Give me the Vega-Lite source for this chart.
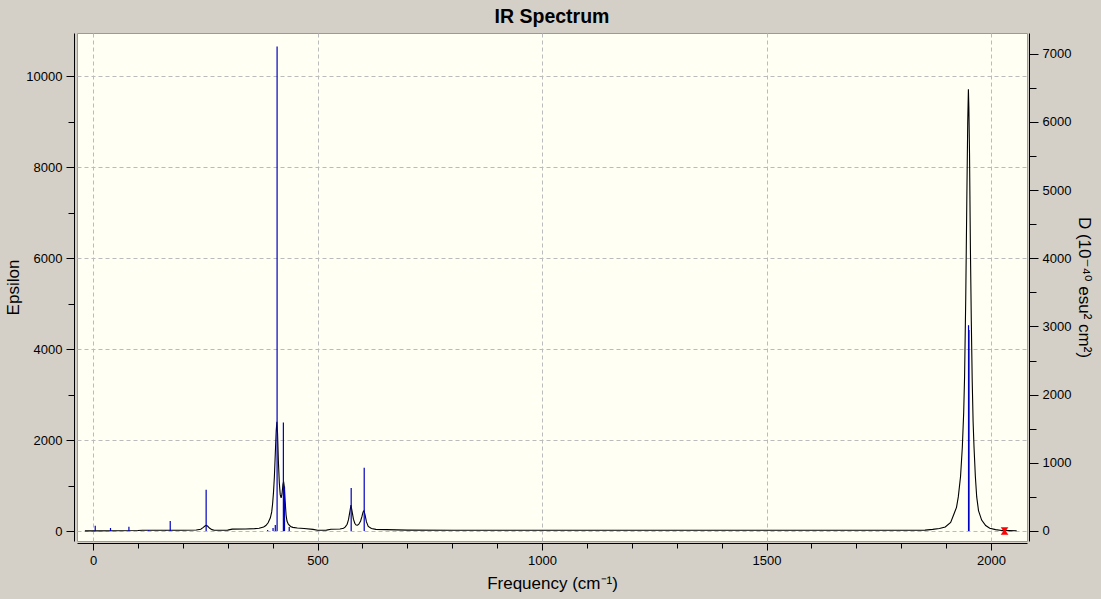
{
  "$schema": "https://vega.github.io/schema/vega-lite/v6.json",
  "width": 950,
  "height": 508,
  "autosize": {"type": "none"},
  "padding": {"left": 77, "top": 33, "right": 74, "bottom": 58},
  "background": "#d4d0c8",
  "config": {
    "font": "Liberation Sans",
    "view": {"fill": "#fffff4", "stroke": "#9a9a9a", "strokeWidth": 1},
    "axis": {"domainColor": "#000000", "tickColor": "#000000", "labelColor": "#000000", "titleColor": "#000000", "labelFontSize": 13, "titleFontSize": 17, "titleFontWeight": "normal", "labelFont": "Liberation Sans", "titleFont": "Liberation Sans"}
  },
  "title": {"text": "IR Spectrum", "fontSize": 19.5, "fontWeight": "bold", "color": "#000000", "anchor": "middle", "offset": 6, "font": "Liberation Sans"},
  "datasets": {
    "curve": [
      {"freq": -18, "eps": 2}, {"freq": 0, "eps": 3}, {"freq": 50, "eps": 5}, {"freq": 100, "eps": 10},
      {"freq": 110, "eps": 18}, {"freq": 150, "eps": 18}, {"freq": 200, "eps": 18}, {"freq": 230, "eps": 22},
      {"freq": 240, "eps": 40}, {"freq": 245, "eps": 75}, {"freq": 250, "eps": 115}, {"freq": 252, "eps": 122},
      {"freq": 255, "eps": 110}, {"freq": 260, "eps": 60}, {"freq": 265, "eps": 30}, {"freq": 270, "eps": 18},
      {"freq": 300, "eps": 20}, {"freq": 310, "eps": 42}, {"freq": 340, "eps": 45}, {"freq": 360, "eps": 52},
      {"freq": 370, "eps": 62}, {"freq": 380, "eps": 90}, {"freq": 385, "eps": 120}, {"freq": 390, "eps": 180},
      {"freq": 395, "eps": 290}, {"freq": 398, "eps": 420}, {"freq": 400, "eps": 600}, {"freq": 402, "eps": 850},
      {"freq": 404, "eps": 1200}, {"freq": 406, "eps": 1700}, {"freq": 408, "eps": 2200}, {"freq": 409.5, "eps": 2405},
      {"freq": 411, "eps": 2150}, {"freq": 413, "eps": 1500}, {"freq": 415, "eps": 1050}, {"freq": 417, "eps": 800},
      {"freq": 419, "eps": 730}, {"freq": 421, "eps": 820}, {"freq": 423, "eps": 1020}, {"freq": 424.5, "eps": 1085},
      {"freq": 426, "eps": 980}, {"freq": 428, "eps": 650}, {"freq": 430, "eps": 350}, {"freq": 432, "eps": 220},
      {"freq": 435, "eps": 150}, {"freq": 440, "eps": 100}, {"freq": 445, "eps": 80}, {"freq": 455, "eps": 65},
      {"freq": 470, "eps": 55}, {"freq": 490, "eps": 35}, {"freq": 500, "eps": 15}, {"freq": 520, "eps": 20},
      {"freq": 530, "eps": 40}, {"freq": 550, "eps": 45}, {"freq": 558, "eps": 60}, {"freq": 562, "eps": 90},
      {"freq": 566, "eps": 150}, {"freq": 569, "eps": 250}, {"freq": 572, "eps": 420}, {"freq": 574.5, "eps": 572},
      {"freq": 577, "eps": 430}, {"freq": 580, "eps": 260}, {"freq": 583, "eps": 170}, {"freq": 586, "eps": 130},
      {"freq": 589, "eps": 128}, {"freq": 592, "eps": 150}, {"freq": 596, "eps": 220}, {"freq": 599, "eps": 320},
      {"freq": 601.5, "eps": 420}, {"freq": 603.5, "eps": 447}, {"freq": 606, "eps": 350}, {"freq": 609, "eps": 200},
      {"freq": 613, "eps": 100}, {"freq": 620, "eps": 55}, {"freq": 630, "eps": 35}, {"freq": 700, "eps": 20},
      {"freq": 800, "eps": 16}, {"freq": 1000, "eps": 15}, {"freq": 1200, "eps": 15}, {"freq": 1400, "eps": 15},
      {"freq": 1600, "eps": 15}, {"freq": 1700, "eps": 16}, {"freq": 1800, "eps": 18}, {"freq": 1853, "eps": 20},
      {"freq": 1870, "eps": 35}, {"freq": 1885, "eps": 55}, {"freq": 1898, "eps": 90}, {"freq": 1910, "eps": 190},
      {"freq": 1918, "eps": 390}, {"freq": 1923, "eps": 520}, {"freq": 1927, "eps": 750}, {"freq": 1932, "eps": 1200},
      {"freq": 1936, "eps": 1850}, {"freq": 1939, "eps": 2600}, {"freq": 1941, "eps": 3400}, {"freq": 1943.6, "eps": 5130},
      {"freq": 1946, "eps": 7300}, {"freq": 1948, "eps": 9000}, {"freq": 1949.5, "eps": 9718}, {"freq": 1950.5, "eps": 9335},
      {"freq": 1952, "eps": 8300}, {"freq": 1954, "eps": 6200}, {"freq": 1956, "eps": 4600}, {"freq": 1958, "eps": 3300},
      {"freq": 1960, "eps": 2400}, {"freq": 1962, "eps": 1850}, {"freq": 1965, "eps": 1200}, {"freq": 1968, "eps": 750},
      {"freq": 1972, "eps": 450}, {"freq": 1979, "eps": 240}, {"freq": 1988, "eps": 120}, {"freq": 1997, "eps": 60},
      {"freq": 2010, "eps": 30}, {"freq": 2024, "eps": 12}, {"freq": 2040, "eps": 8}, {"freq": 2057, "eps": 5}
    ],
    "sticks": [
      {"freq": 5, "D": 78}, {"freq": 39, "D": 44}, {"freq": 80, "D": 63}, {"freq": 124, "D": 10},
      {"freq": 162, "D": 8}, {"freq": 172, "D": 147}, {"freq": 252, "D": 605}, {"freq": 389, "D": 15},
      {"freq": 401, "D": 44}, {"freq": 406, "D": 88}, {"freq": 410, "D": 7107}, {"freq": 424, "D": 1590},
      {"freq": 426.5, "D": 650}, {"freq": 437, "D": 58}, {"freq": 575, "D": 630}, {"freq": 604, "D": 928},
      {"freq": 1949.8, "D": 3019}, {"freq": 1950.8, "D": 2950}
    ],
    "marker": [{"freq": 2030, "D": 0}]
  },
  "layer": [
    {
      "data": {"name": "curve"},
      "mark": {"type": "line", "color": "#000000", "strokeWidth": 1.1, "clip": true},
      "encoding": {
        "x": {
          "field": "freq", "type": "quantitative",
          "scale": {"domain": [-35.6, 2080], "nice": false, "zero": false},
          "axis": {
            "title": "Frequency (cm⁻¹)",
            "orient": "bottom",
            "offset": 2,
            "values": [0,50,100,150,200,250,300,350,400,450,500,550,600,650,700,750,800,850,900,950,1000,1050,1100,1150,1200,1250,1300,1350,1400,1450,1500,1550,1600,1650,1700,1750,1800,1850,1900,1950,2000,2050],
            "format": "d",
            "labelExpr": "datum.value % 500 === 0 ? datum.label : ''",
            "tickSize": {"condition": {"test": "datum.value % 500 === 0", "value": 7}, "value": 5},
            "labelPadding": 4,
            "titlePadding": 8,
            "grid": true,
            "gridDash": [4, 3],
            "gridColor": "#bbbbbb",
            "gridOpacity": {"condition": {"test": "datum.value % 500 === 0", "value": 1}, "value": 0}
          }
        },
        "y": {
          "field": "eps", "type": "quantitative",
          "scale": {"domain": [-220, 10957], "nice": false, "zero": false},
          "axis": {
            "title": "Epsilon",
            "orient": "left",
            "offset": 3,
            "values": [0,1000,2000,3000,4000,5000,6000,7000,8000,9000,10000],
            "format": "d",
            "labelExpr": "datum.value % 2000 === 0 ? datum.label : ''",
            "tickSize": {"condition": {"test": "datum.value % 2000 === 0", "value": 8}, "value": 6},
            "labelPadding": 4,
            "titlePadding": 3,
            "grid": true,
            "gridDash": [4, 3],
            "gridColor": "#bbbbbb",
            "gridOpacity": {"condition": {"test": "datum.value % 2000 === 0", "value": 1}, "value": 0}
          }
        }
      }
    },
    {
      "data": {"name": "sticks"},
      "mark": {"type": "rule", "color": "#0000c0", "strokeWidth": 1.2},
      "encoding": {
        "x": {"field": "freq", "type": "quantitative"},
        "y": {
          "field": "D", "type": "quantitative",
          "scale": {"domain": [-146.7, 7305], "nice": false, "zero": false},
          "axis": {
            "title": "D (10⁻⁴⁰ esu² cm²)",
            "titleFont": "Liberation Sans, DejaVu Sans",
            "orient": "right",
            "offset": 2,
            "values": [0,500,1000,1500,2000,2500,3000,3500,4000,4500,5000,5500,6000,6500,7000],
            "format": "d",
            "labelExpr": "datum.value % 1000 === 0 ? datum.label : ''",
            "tickSize": {"condition": {"test": "datum.value % 1000 === 0", "value": 9}, "value": 7},
            "labelPadding": 4,
            "titleAngle": 90,
            "titlePadding": 4,
            "grid": false
          }
        },
        "y2": {"datum": 0}
      }
    },
    {
      "data": {"name": "marker"},
      "mark": {"type": "point", "shape": "M-1,-1H1L0.3,0L1,1H-1L-0.3,0Z", "filled": true, "color": "#ff0000", "size": 60, "opacity": 1},
      "encoding": {
        "x": {"field": "freq", "type": "quantitative"},
        "y": {"field": "D", "type": "quantitative", "scale": {"domain": [-146.7, 7305], "nice": false, "zero": false}, "axis": null}
      }
    }
  ],
  "resolve": {"scale": {"y": "independent"}}
}
